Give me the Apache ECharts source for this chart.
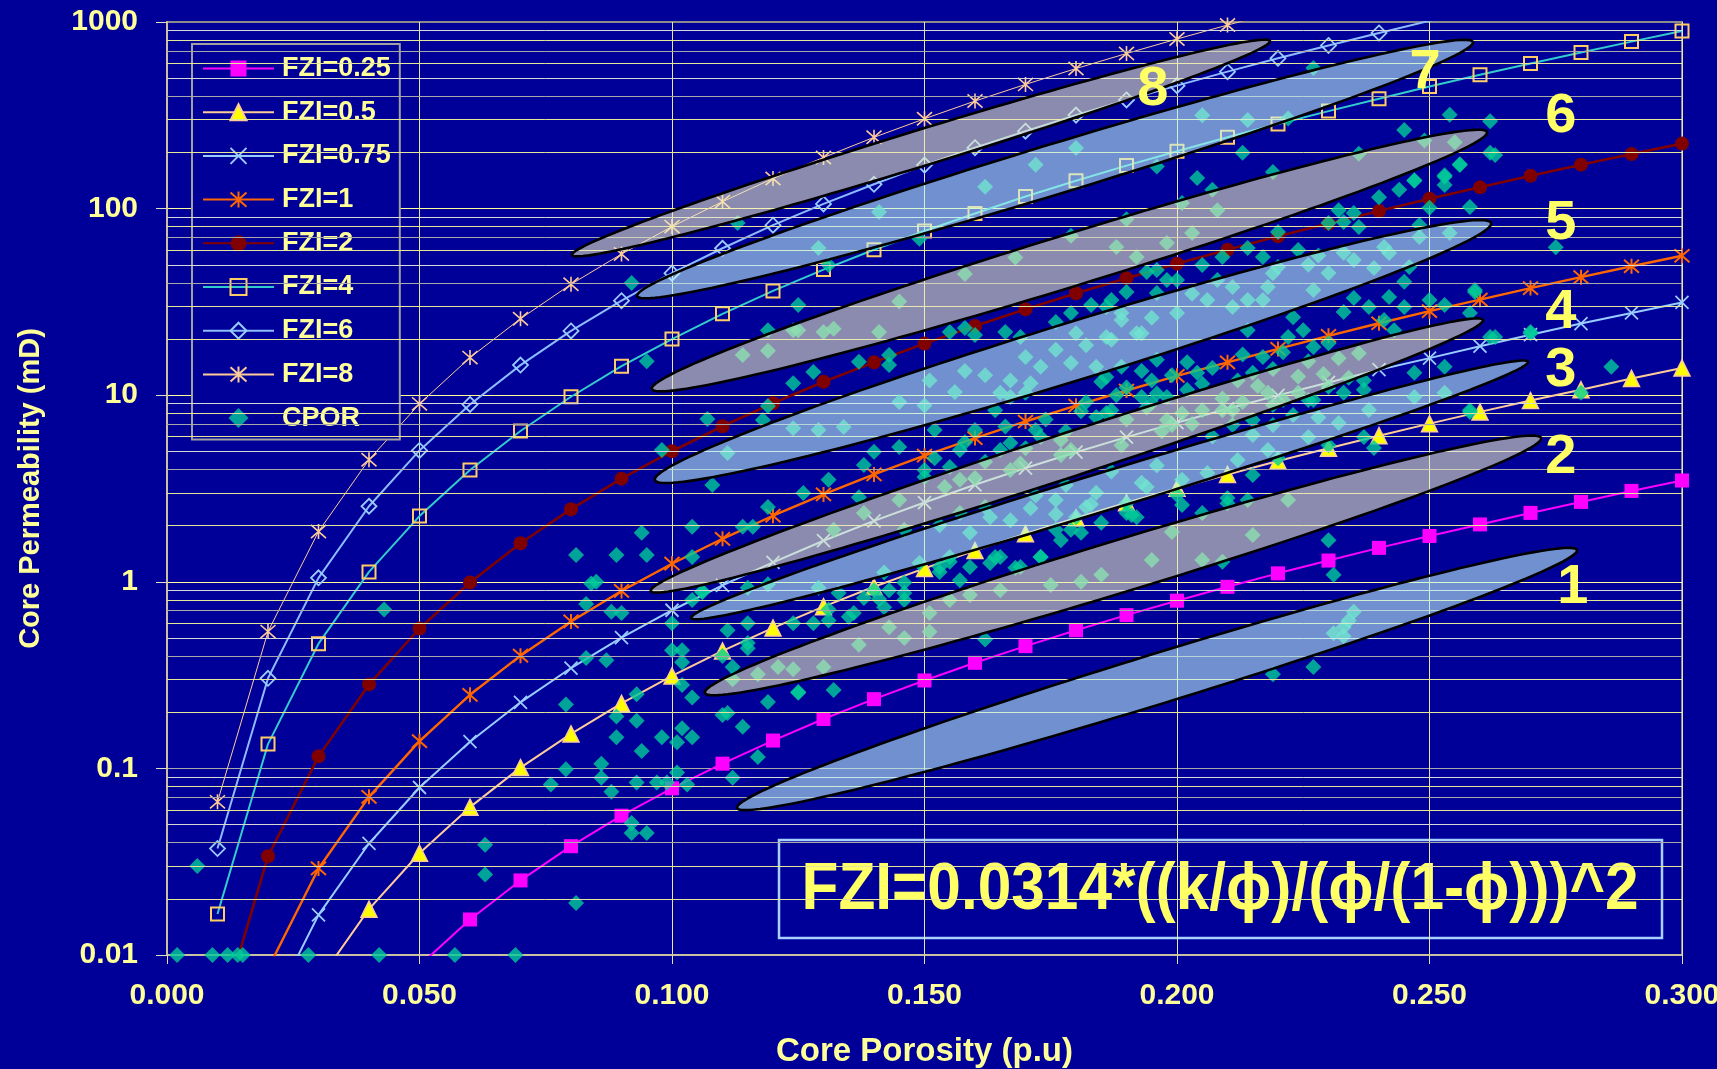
<!DOCTYPE html>
<html>
<head>
<meta charset="utf-8">
<script src="https://cdn.jsdelivr.net/npm/echarts/dist/echarts.min.js"></script>
<style>
  html, body { margin: 0; padding: 0; background: #000099; }
  #chart { width: 1717px; height: 1069px; }
</style>
</head>
<body>
<div id="chart"></div>
<script>
// Porosity steps shared by the FZI reference curves
const porosity = [0.01,0.02,0.03,0.04,0.05,0.06,0.07,0.08,0.09,0.10,0.11,0.12,0.13,0.14,0.15,
                  0.16,0.17,0.18,0.19,0.20,0.21,0.22,0.23,0.24,0.25,0.26,0.27,0.28,0.29,0.30];

// Permeability (mD) of each FZI curve at the porosity steps above
const fzi025 = [0.0000647,0.000528,0.00182,0.0044,0.00878,0.0155,0.0251,0.0383,0.0558,0.0782,0.106,0.141,0.184,0.235,0.296,
                0.368,0.452,0.55,0.663,0.792,0.94,1.11,1.30,1.52,1.76,2.03,2.34,2.68,3.07,3.49];
const fzi05  = [0.000259,0.00211,0.00727,0.0176,0.0351,0.062,0.101,0.153,0.223,0.313,0.426,0.566,0.736,0.941,1.18,
                1.47,1.81,2.20,2.65,3.17,3.76,4.44,5.20,6.07,7.04,8.14,9.36,10.7,12.3,14.0];
const fzi075 = [0.000582,0.00475,0.0164,0.0396,0.079,0.139,0.226,0.345,0.502,0.704,0.958,1.27,1.66,2.12,2.66,
                3.31,4.07,4.95,5.96,7.13,8.46,9.98,11.7,13.7,15.8,18.3,21.1,24.2,27.6,31.4];
const fzi1   = [0.00103,0.00845,0.0291,0.0704,0.140,0.248,0.402,0.613,0.893,1.25,1.70,2.26,2.94,3.76,4.74,
                5.89,7.23,8.79,10.6,12.7,15.0,17.7,20.8,24.3,28.2,32.5,37.5,42.9,49.1,55.9];
const fzi2   = [0.00414,0.0338,0.116,0.282,0.562,0.992,1.61,2.45,3.57,5.01,6.82,9.05,11.8,15.0,18.9,
                23.5,28.9,35.2,42.4,50.7,60.2,71.0,83.2,97.1,113,130,150,172,196,223];
const fzi4   = [0.0166,0.135,0.466,1.13,2.25,3.97,6.43,9.81,14.3,20.0,27.3,36.2,47.1,60.2,75.8,
                94.2,116,141,170,203,241,284,333,388,451,521,599,687,785,894];
const fzi6   = [0.0372,0.304,1.05,2.54,5.06,8.92,14.5,22.1,32.1,45.1,61.3,81.5,106,135,171,
                212,260,317,382,456,542,639,749,874,1014,1172];
const fzi8   = [0.0662,0.541,1.86,4.51,8.99,15.9,25.7,39.3,57.1,80.1,109,145,188,241,303,
                377,463,563,678,811,963,1136];

// Core plug measurements: [porosity, permeability mD]
const cpor = [
  [0.002,0.01],[0.009,0.01],[0.012,0.01],[0.014,0.01],[0.015,0.01],[0.028,0.01],[0.042,0.01],[0.057,0.01],[0.069,0.01],
  [0.006,0.030],[0.043,0.71],[0.063,0.039],[0.063,0.027],[0.081,0.019],
  [0.084,0.98],[0.083,0.76],[0.088,0.69],[0.090,0.68],[0.100,0.60],[0.100,0.43],[0.102,0.43],[0.102,0.37],[0.083,0.39],[0.087,0.38],
  [0.079,0.22],[0.093,0.25],[0.102,0.28],[0.104,0.24],[0.089,0.19],[0.093,0.18],[0.089,0.147],[0.094,0.124],[0.098,0.147],[0.101,0.138],
  [0.102,0.164],[0.104,0.147],[0.110,0.193],[0.111,0.198],[0.114,0.167],[0.117,0.115],[0.119,0.227],[0.125,0.254],[0.132,0.263],
  [0.112,0.089],[0.103,0.082],[0.101,0.095],[0.099,0.084],[0.097,0.084],[0.093,0.084],[0.088,0.075],[0.086,0.089],[0.086,0.106],
  [0.079,0.099],[0.076,0.082],[0.092,0.051],[0.095,0.045],[0.092,0.045],
  [0.111,0.55],[0.115,0.60],[0.115,0.44],[0.110,0.40],[0.112,0.35],[0.124,0.60],[0.128,0.60],[0.131,0.62],[0.135,0.65],[0.141,0.81],
  [0.142,0.73],[0.133,0.87],[0.129,0.93],[0.115,0.93],[0.119,0.97],[0.106,0.89],[0.104,0.80],
  [0.115,0.47],[0.117,0.32],[0.121,0.35],[0.124,0.34],[0.130,0.35],[0.137,0.46],[0.143,0.57],[0.112,0.30],
  [0.230,1.67],[0.231,1.09],[0.227,0.35],[0.219,0.32],
  [0.235,0.69],[0.234,0.62],[0.233,0.57],[0.231,0.53],[0.233,0.51],
  [0.181,1.0],[0.159,0.85],[0.151,0.68],[0.146,0.50],[0.151,0.54],[0.162,0.49],[0.205,1.31],[0.209,1.28],[0.199,1.85],[0.222,2.74],
  [0.155,1.28],[0.159,1.20],[0.153,1.13],[0.164,1.36],[0.173,1.36],[0.168,1.19],[0.146,0.80],[0.143,0.90],[0.146,0.99],[0.149,1.26],
  [0.185,2.07],[0.191,2.28],[0.201,2.58],[0.210,2.64],[0.214,2.74],[0.205,2.34],[0.180,2.22],[0.179,1.90],[0.157,2.34],[0.153,2.01],
  [0.162,2.52],[0.146,1.90],
  [0.125,30.4],[0.095,15.2],[0.107,7.45],[0.098,5.08],[0.108,3.30],[0.119,8.75],[0.118,7.36],[0.124,11.6],[0.128,13.3],[0.137,15.1],
  [0.143,16.4],[0.143,14.5],[0.155,21.8],[0.160,21.0],[0.158,22.9],[0.166,21.8],[0.169,20.5],[0.176,24.7],[0.179,27.6],[0.183,30.4],[0.186,29.7],
  [0.170,10.3],[0.172,6.5],[0.164,8.3],[0.160,6.5],[0.152,6.5],[0.145,5.28],[0.140,4.97],[0.138,4.23],[0.150,3.97],[0.150,3.65],
  [0.155,4.12],[0.157,5.08],[0.165,5.08],[0.167,5.55],[0.173,5.97],[0.177,5.75],[0.179,5.08],[0.184,7.64],[0.187,8.3],[0.193,9.77],
  [0.195,9.07],[0.185,11.8],[0.182,9.2],[0.167,9.77],
  [0.131,3.52],[0.126,2.99],[0.119,2.52],[0.137,2.84],[0.114,1.97],[0.116,1.97],[0.104,1.36],[0.104,1.97],[0.094,1.83],[0.081,1.39],
  [0.089,1.39],[0.095,1.39],[0.085,1.0],[0.106,0.88],
  [0.125,0.257],[0.131,0.71],[0.136,0.68],[0.138,0.82],[0.146,0.87],[0.142,1.12],[0.140,0.90],[0.155,1.36],[0.153,1.20],[0.157,1.02],
  [0.165,1.36],[0.163,1.26],[0.169,1.20],[0.173,1.36],[0.177,1.67],[0.176,1.90],[0.181,1.83],[0.192,2.22],[0.190,2.64],[0.182,2.52],
  [0.176,2.74],[0.171,2.48],[0.167,2.14],[0.163,2.22],[0.159,1.83],
  [0.138,2.34],[0.132,1.90],[0.154,3.22],
  [0.124,6.66],[0.129,6.5],[0.134,6.76],[0.111,4.9],[0.151,12.0],[0.156,10.4],[0.162,12.8],[0.167,12.0],[0.173,14.2],[0.176,17.5],
  [0.180,21.5],[0.186,20.5],[0.189,25.3],[0.193,21.5],[0.184,14.2],[0.179,14.9],[0.165,10.3],[0.171,11.6],
  [0.114,16.4],[0.124,22.3],[0.130,21.8],[0.141,21.8],
  [0.254,318],[0.262,294],[0.245,264],[0.213,199],[0.262,199],[0.256,171],[0.204,146],[0.219,157],[0.247,142],[0.253,148],
  [0.244,126],[0.240,115],[0.258,102],[0.250,101],[0.232,98],[0.235,94.6],[0.233,84.7],[0.230,83.7],[0.236,79.6],[0.248,81.6],
  [0.220,75],[0.217,55],[0.207,126],[0.205,49.9],[0.196,46.9],[0.198,41.4],[0.194,45.7],[0.190,35.7],[0.187,32.4],[0.246,48.6],
  [0.245,40.5],[0.235,33.2],[0.233,27.9],[0.238,29.7],[0.242,33.6],[0.245,29.7],[0.250,32.4],[0.253,30.4],[0.259,35.7],[0.258,27.6],
  [0.241,25.3],[0.243,22.3],[0.223,26.2],[0.225,22.3],[0.222,20.5],[0.214,22.3],[0.211,29.7],[0.217,32.4],[0.227,18.1],[0.230,19.0],
  [0.217,16.0],[0.215,13.2],[0.204,13.2],[0.202,10.7],[0.198,9.77],[0.195,12.0],[0.189,14.2],[0.186,8.03],[0.205,8.3],[0.218,10.3],
  [0.221,9.42],[0.224,10.3],[0.227,9.42],[0.230,11.1],[0.233,10.3],[0.237,12.0],[0.237,10.7],[0.247,13.2],[0.253,14.2],[0.262,20.5],
  [0.270,21.8],[0.286,14.2],[0.280,10.3],[0.258,8.13],[0.259,36.6],[0.239,5.21],[0.215,3.73],[0.210,2.81],[0.200,2.92],[0.190,2.34],
  [0.220,4.6],[0.230,5.4],[0.237,5.97],
  [0.211,8.3],[0.215,7.36],[0.219,6.92],[0.223,7.83],[0.215,6.12],[0.219,8.85],[0.226,9.42],[0.211,6.92],
  [0.188,62.2],[0.192,55],[0.198,65.5],[0.209,55],[0.214,61.5],[0.220,48.6],[0.224,60],[0.230,45.2],[0.235,53],[0.241,62.2],
  [0.227,36.6],[0.218,38],[0.214,32.4],[0.206,32.4],[0.200,27.6],[0.196,35.3],[0.189,27.6],[0.192,21.5],[0.187,19.8],[0.200,41.4],
  [0.208,41.4],[0.242,57.8],[0.248,70.5],[0.254,74],
  [0.214,298],[0.255,227],[0.208,98],[0.203,74],
  [0.238,8.34],[0.232,7.1],[0.226,5.97],[0.218,5.08],[0.212,4.5],[0.206,3.83],[0.201,3.52],[0.194,3.22],[0.247,9.77],[0.253,10.3],
  [0.198,7.36],[0.145,2.74],[0.157,3.52],[0.167,3.97],[0.177,4.78],[0.189,5.4],[0.199,6.92],[0.209,8.3],
  [0.155,0.80],[0.165,0.90],[0.175,0.96],[0.185,1.09],[0.195,1.31],[0.215,1.78],
  [0.263,194],[0.256,173],[0.253,151],[0.247,141],[0.253,134],[0.270,21.5],[0.263,20.5],[0.258,8.3],[0.275,62],
  [0.092,39.9],[0.113,83.7],[0.129,61.5],[0.131,49.9],[0.119,22.3],[0.125,22.3],
  [0.141,96],[0.149,69],[0.172,172],[0.180,211],[0.196,168],[0.222,304],[0.227,566],[0.205,316],[0.162,131],
  [0.119,17.3],[0.132,22.7],[0.145,31.8],[0.158,44.6],[0.168,54.7],[0.179,71.6],[0.190,87.7],[0.201,107],[0.236,197],[0.249,232],
  [0.186,12.5],[0.190,11.0],[0.193,13.5],[0.196,10.2],[0.199,12.8],[0.202,15.0],[0.205,11.5],[0.207,14.0],[0.209,9.6],[0.212,12.0],
  [0.213,16.5],[0.216,11.2],[0.219,13.8],[0.221,17.0],[0.224,12.6],[0.226,15.2],[0.229,13.0],[0.232,15.8],[0.234,12.4],[0.236,16.8],
  [0.190,7.4],[0.194,8.6],[0.197,6.4],[0.203,7.0],[0.207,6.0],[0.213,9.2],[0.196,15.5],[0.188,10.0],[0.201,8.0],[0.228,7.6],
  [0.152,4.6],[0.158,5.6],[0.162,4.4],[0.166,6.8],[0.170,5.2],[0.174,7.4],[0.178,6.4],[0.181,8.2],[0.160,3.6],[0.169,4.3],
  [0.172,2.9],[0.178,3.3],[0.184,3.0],[0.187,3.9],[0.193,3.4],[0.196,4.2],[0.176,2.3],[0.183,2.6],
  [0.145,9.2],[0.150,8.8],[0.158,13.5],[0.170,16.0],[0.182,18.5],[0.195,26],[0.203,35],[0.211,38],[0.219,45],[0.226,50],
  [0.233,58],[0.239,48],[0.228,56]
];

// Hydraulic flow unit zones: end points [porosity, perm, porosity, perm]
const zoneTips = [
  [0.1129, 0.0614, 0.2792, 1.48],
  [0.1065, 0.254,  0.2721, 5.90],
  [0.1038, 0.640,  0.2695, 15.1],
  [0.0958, 0.893,  0.2606, 25.3],
  [0.0966, 3.51,   0.2622, 83.7],
  [0.0960, 10.8,   0.2614, 257],
  [0.0931, 34.0,   0.2586, 781],
  [0.0802, 56.4,   0.2184, 791]
];
const zoneNames = ['1','2','3','4','5','6','7','8'];
const zoneLabelAt = [
  [0.2784, 0.937], [0.276, 4.61], [0.276, 13.6], [0.276, 27.6],
  [0.276, 82.7], [0.276, 310], [0.2491, 533], [0.1952, 432]
];

const seriesNames = ['FZI=0.25','FZI=0.5','FZI=0.75','FZI=1','FZI=2','FZI=4','FZI=6','FZI=8','CPOR'];

// ---- styling ----
const FONT = '"Liberation Sans", Arial, Helvetica, sans-serif';
const LABEL = '#FFFF99';
const zoneHalfWidth = [25, 26, 19, 22, 29, 26, 25, 18];
const zoneFill = ['rgba(190,244,246,0.59)', 'rgba(237,237,192,0.59)'];

const SYM_X = 'path://M0,0L10,10M10,0L0,10';
const SYM_STAR = 'path://M5,0L5,10M0.6,0.6L9.4,9.4M9.4,0.6L0.6,9.4';
const SYM_BOX = 'path://M0,0L10,0L10,10L0,10Z';
const SYM_DIA = 'path://M5,0L10,5L5,10L0,5Z';
// legend swatch: a diamond centred in the full icon box (empty moves fix the box extent)
const LEGEND_DIA = 'path://M0,0M71,20M35.5,0L45.5,10L35.5,20L25.5,10Z';

function curve(name, values, line, lineWidth, symbol, size, item) {
  return {
    name, type: 'line', z: 3, clip: true, silent: true, animation: false,
    data: values.map((k, i) => [porosity[i], k]),
    lineStyle: { color: line, width: lineWidth },
    symbol, symbolSize: size, showAllSymbol: true,
    itemStyle: item,
    emphasis: { disabled: true }
  };
}

// minor gridlines of the log axis, alternating tint as in a spreadsheet chart
const minorColors = { 2: '#E6E69A', 3: '#E6E69A', 4: '#A8A8A8', 5: '#D8D8D8', 6: '#E6E69A', 7: '#A8A8A8', 8: '#E6E69A', 9: '#D8D8D8' };
const minorLines = [];
[0.01, 0.1, 1, 10, 100].forEach(dec => {
  for (let m = 2; m <= 9; m++) {
    minorLines.push({ yAxis: +(dec * m).toPrecision(3), lineStyle: { color: minorColors[m], width: 1, type: 'solid' } });
  }
});

function renderZone(params, api) {
  const p1 = api.coord([api.value(0), api.value(1)]);
  const p2 = api.coord([api.value(2), api.value(3)]);
  const cx = (p1[0] + p2[0]) / 2, cy = (p1[1] + p2[1]) / 2;
  const a = Math.hypot(p2[0] - p1[0], p2[1] - p1[1]) / 2;
  const b = zoneHalfWidth[params.dataIndex];
  const ang = Math.atan2(p2[1] - p1[1], p2[0] - p1[0]);
  const c = Math.cos(ang), s = Math.sin(ang);
  const pts = [];
  for (let i = 0; i < 160; i++) {
    const t = i / 160 * Math.PI * 2;
    const u = a * Math.cos(t), v = b * Math.sin(t);
    pts.push([cx + u * c - v * s, cy + u * s + v * c]);
  }
  return {
    type: 'polygon', shape: { points: pts },
    style: { fill: zoneFill[params.dataIndex % 2], stroke: '#000000', lineWidth: 2.6 }
  };
}

function renderZoneName(params, api) {
  const p = api.coord([api.value(0), api.value(1)]);
  return {
    type: 'text', x: p[0], y: p[1],
    style: {
      text: zoneNames[params.dataIndex], fill: '#FFFF66',
      font: 'bold 56px ' + FONT, align: 'center', verticalAlign: 'middle'
    }
  };
}

// formula text is set in a condensed width
const formula = 'FZI=0.0314*((k/\u03D5)/(\u03D5/(1-\u03D5)))^2';
const formulaFont = 'bold 67px ' + FONT;
const mctx = document.createElement('canvas').getContext('2d');
mctx.font = formulaFont;
const formulaScale = 837 / mctx.measureText(formula).width;

const chart = echarts.init(document.getElementById('chart'), null, { renderer: 'canvas' });

chart.setOption({
  backgroundColor: '#000099',
  animation: false,
  textStyle: { fontFamily: FONT },
  grid: {
    left: 167, right: 35, top: 22, bottom: 114,
    show: true, borderColor: '#8C8C8C', borderWidth: 2, backgroundColor: 'transparent',
    outerBoundsMode: 'none', containLabel: false
  },
  legend: {
    data: seriesNames.slice(0, 8).concat([{ name: 'CPOR', icon: LEGEND_DIA }]),
    orient: 'vertical', left: 192, top: 44,
    padding: [11, 9, 8, 10],
    itemWidth: 71, itemHeight: 20, itemGap: 16.7,
    symbolKeepAspect: true,
    backgroundColor: '#000099', borderColor: '#A0A0A0', borderWidth: 2, borderRadius: 0,
    selectedMode: false,
    textStyle: { color: LABEL, fontSize: 27, fontWeight: 'bold', fontFamily: FONT, lineHeight: 26, padding: [0, 0, 0, 3] }
  },
  xAxis: {
    type: 'value', min: 0, max: 0.3, interval: 0.05,
    name: 'Core Porosity (p.u)', nameLocation: 'middle', nameGap: 80,
    nameTextStyle: { color: LABEL, fontSize: 33, fontWeight: 'bold', fontFamily: FONT },
    axisLine: { show: true, onZero: false, lineStyle: { color: '#C8C0A0', width: 2 } },
    axisTick: { show: true, length: 9, lineStyle: { color: '#E0E0C0', width: 1 } },
    axisLabel: {
      color: LABEL, fontSize: 30, fontWeight: 'bold', fontFamily: FONT, margin: 26,
      showMinLabel: true, showMaxLabel: true, hideOverlap: false,
      alignMinLabel: 'center', alignMaxLabel: 'center',
      formatter: v => v.toFixed(3)
    },
    splitLine: { show: true, lineStyle: { color: '#E6E6B8', width: 1 } }
  },
  yAxis: {
    type: 'log', logBase: 10, min: 0.01, max: 1000,
    name: 'Core Permeability (mD)', nameLocation: 'middle', nameGap: 122,
    nameTextStyle: { color: LABEL, fontSize: 29, fontWeight: 'bold', fontFamily: FONT },
    axisLine: { show: true, onZero: false, lineStyle: { color: '#C8C0A0', width: 2 } },
    axisTick: { show: true, length: 11, lineStyle: { color: '#E0E0C0', width: 1 } },
    axisLabel: {
      color: LABEL, fontSize: 30, fontWeight: 'bold', fontFamily: FONT, margin: 29,
      showMinLabel: true, showMaxLabel: true, hideOverlap: false,
      formatter: v => {
        const e = Math.round(Math.log10(v));
        return e < 0 ? Math.pow(10, e).toFixed(-e) : String(Math.pow(10, e));
      }
    },
    splitLine: { show: true, lineStyle: { color: ['#B0B0B0', '#A8A8A8', '#FFFF99', '#FFFF99', '#FFFF99', '#8C8C8C'], width: 1.2 } },
    minorTick: { show: false },
    minorSplitLine: { show: false }
  },
  graphic: [{
    type: 'group', z: 100,
    children: [
      { type: 'rect', shape: { x: 779, y: 840, width: 883, height: 98 },
        style: { fill: '#000099', stroke: '#A8D0FF', lineWidth: 2.5 } },
      { type: 'text', x: 1220, y: 891, scaleX: formulaScale, scaleY: 1,
        style: { text: formula, font: formulaFont, fill: '#FFFF66', align: 'center', verticalAlign: 'middle' } }
    ]
  }],
  series: [
    {
      type: 'line', z: 1, silent: true, data: [[0.15, 1]], symbol: 'none',
      lineStyle: { opacity: 0 },
      markLine: { silent: true, symbol: ['none', 'none'], label: { show: false }, animation: false, data: minorLines }
    },
    curve('FZI=0.25', fzi025, '#FF00FF', 2, 'rect', 14, { color: '#FF00FF' }),
    curve('FZI=0.5', fzi05, '#FFCC99', 2, 'triangle', 16, { color: '#FFFF00', borderColor: '#FFCC99', borderWidth: 1.5 }),
    curve('FZI=0.75', fzi075, '#99CCFF', 2, SYM_X, 13, { color: 'rgba(0,0,0,0)', borderColor: '#99CCFF', borderWidth: 1.8 }),
    curve('FZI=1', fzi1, '#FF6600', 2.4, SYM_STAR, 15, { color: 'rgba(0,0,0,0)', borderColor: '#FF6600', borderWidth: 2 }),
    curve('FZI=2', fzi2, '#800000', 2.6, 'circle', 14, { color: '#800000' }),
    curve('FZI=4', fzi4, '#33CCCC', 2, SYM_BOX, 13, { color: 'rgba(0,0,0,0)', borderColor: '#FFCC66', borderWidth: 2 }),
    curve('FZI=6', fzi6, '#8CBCFF', 2, SYM_DIA, 15, { color: 'rgba(0,0,0,0)', borderColor: '#99CCFF', borderWidth: 1.8 }),
    curve('FZI=8', fzi8, '#FFCC99', 1, SYM_STAR, 15, { color: 'rgba(0,0,0,0)', borderColor: '#FFCC99', borderWidth: 1.6 }),
    {
      name: 'CPOR', type: 'scatter', z: 4, silent: true, clip: false,
      symbol: 'diamond', symbolSize: 16, symbolKeepAspect: true,
      itemStyle: { color: '#00CC99' },
      data: cpor
    },
    {
      type: 'custom', z: 5, silent: true, clip: false,
      renderItem: renderZone,
      encode: { x: [0, 2], y: [1, 3] },
      data: zoneTips
    },
    {
      type: 'custom', z: 6, silent: true, clip: false,
      renderItem: renderZoneName,
      encode: { x: 0, y: 1 },
      data: zoneLabelAt
    }
  ]
});
</script>
</body>
</html>
